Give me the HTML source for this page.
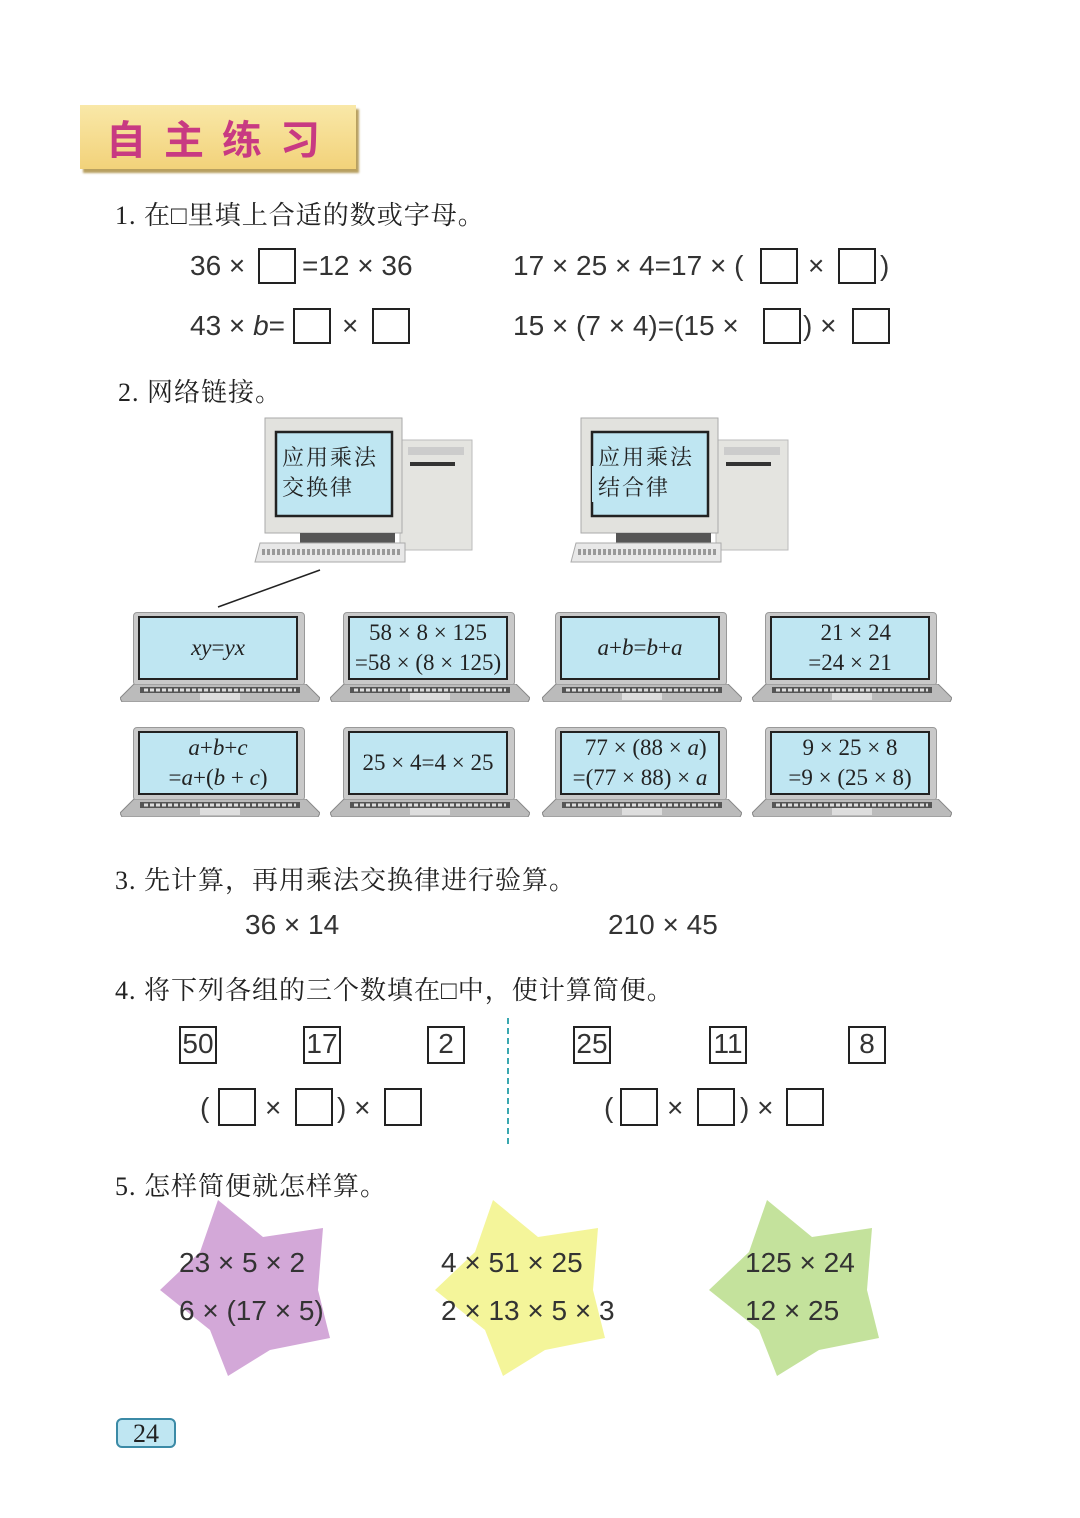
<!DOCTYPE html>
<html><head><meta charset="utf-8"><style>
body{margin:0;background:#fff;}
#p{position:relative;width:1080px;height:1518px;overflow:hidden;background:#fff;font-family:"Liberation Sans","Noto Sans CJK SC",sans-serif;color:#2a2a2a;}
.a{position:absolute;white-space:nowrap;}
.q{position:absolute;white-space:nowrap;font-family:"Liberation Serif","Noto Serif CJK SC",serif;font-size:26px;color:#222;letter-spacing:1px;}
.m{position:absolute;white-space:nowrap;font-size:28px;color:#333;line-height:36px;}
.b{position:absolute;border:2px solid #222;box-sizing:border-box;background:#fff;}
.nb{position:absolute;border:2px solid #222;box-sizing:border-box;font-size:28px;line-height:32px;text-align:center;color:#333;}
.lap{position:absolute;width:200px;height:92px;}
.lap .fr{position:absolute;left:13px;top:0;width:170px;height:72px;background:#c9c9c9;border-radius:4px;border:1px solid #999;}
.lap .sc{position:absolute;left:18px;top:4px;width:160px;height:64px;background:#bfe6f2;border:2px solid #222;box-sizing:border-box;font-family:"Liberation Serif",serif;font-size:23px;color:#222;text-align:center;line-height:30px;display:flex;flex-direction:column;justify-content:center;}
.lap .bs{position:absolute;left:0;top:72px;width:200px;height:18px;}
i{font-style:italic;}
</style></head><body><div id="p">

<!-- title -->
<div class="a" style="left:80px;top:105px;width:276px;height:64px;background:linear-gradient(#f9e8a8,#f2d27a);box-shadow:3px 4px 2px #b8a060;"></div>
<div class="a" style="left:106px;top:110px;font-family:'Noto Sans CJK SC',sans-serif;font-weight:bold;font-size:40px;color:#c83a82;letter-spacing:18px;line-height:54px;">自主练习</div>

<!-- Q1 -->
<div class="q" style="left:115px;top:195px;">1. 在□里填上合适的数或字母。</div>
<div class="m" style="left:190px;top:248px;">36 ×</div>
<div class="b" style="left:258px;top:248px;width:38px;height:36px;"></div>
<div class="m" style="left:302px;top:248px;">=12 × 36</div>
<div class="m" style="left:513px;top:248px;">17 × 25 × 4=17 × (</div>
<div class="b" style="left:760px;top:248px;width:38px;height:36px;"></div>
<div class="m" style="left:808px;top:248px;">×</div>
<div class="b" style="left:838px;top:248px;width:38px;height:36px;"></div>
<div class="m" style="left:880px;top:248px;">)</div>

<div class="m" style="left:190px;top:308px;">43 × <i>b</i>=</div>
<div class="b" style="left:293px;top:308px;width:38px;height:36px;"></div>
<div class="m" style="left:342px;top:308px;">×</div>
<div class="b" style="left:372px;top:308px;width:38px;height:36px;"></div>
<div class="m" style="left:513px;top:308px;">15 × (7 × 4)=(15 ×</div>
<div class="b" style="left:763px;top:308px;width:38px;height:36px;"></div>
<div class="m" style="left:803px;top:308px;">) ×</div>
<div class="b" style="left:852px;top:308px;width:38px;height:36px;"></div>

<!-- Q2 -->
<div class="q" style="left:118px;top:372px;">2. 网络链接。</div>

<!-- computers -->
<svg class="a" style="left:0;top:0" width="1080" height="620">
 <g id="c1">
  <rect x="400" y="440" width="72" height="110" fill="#e4e4e0" stroke="#bbb"/>
  <rect x="408" y="447" width="56" height="8" fill="#ccc"/>
  <rect x="410" y="462" width="45" height="4" fill="#333"/>
  <rect x="265" y="418" width="137" height="115" fill="#e2e2de" stroke="#aaa"/>
  <rect x="276" y="432" width="116" height="84" fill="#bfe6f2" stroke="#222" stroke-width="2.5"/>
  <rect x="300" y="533" width="95" height="10" fill="#555"/>
  <polygon points="260,543 405,543 405,562 255,562" fill="#e8e8e8" stroke="#aaa"/>
  <line x1="262" y1="552" x2="400" y2="552" stroke="#999" stroke-width="6" stroke-dasharray="3,2"/>
  <text x="282" y="465" font-family="Noto Serif CJK SC,serif" font-size="22" fill="#222" letter-spacing="2">应用乘法</text>
 </g>
 <text x="282" y="495" font-family="Noto Serif CJK SC,serif" font-size="22" fill="#222" letter-spacing="2">交换律</text>
 <use href="#c1" transform="translate(316,0)"/>
 <rect x="592" y="466" width="112" height="36" fill="#bfe6f2"/>
 <text x="598" y="495" font-family="Noto Serif CJK SC,serif" font-size="22" fill="#222" letter-spacing="2">结合律</text>
 <line x1="320" y1="570" x2="218" y2="607" stroke="#222" stroke-width="1.5"/>
</svg>

<!-- laptops -->
<svg width="0" height="0" style="position:absolute"><defs>
<g id="base"><polygon points="14,0 186,0 200,14 198,18 2,18 0,14" fill="#bbb" stroke="#888"/><rect x="20" y="3" width="160" height="6" fill="#555"/><line x1="24" y1="6" x2="176" y2="6" stroke="#ddd" stroke-width="3" stroke-dasharray="4,2"/><rect x="80" y="9" width="40" height="7" fill="#ddd"/></g>
</defs></svg>

<div class="lap" style="left:120px;top:612px;"><div class="fr"></div><div class="sc"><div><i>xy</i>=<i>yx</i></div></div><svg class="bs"><use href="#base"/></svg></div>
<div class="lap" style="left:330px;top:612px;"><div class="fr"></div><div class="sc"><div>58 × 8 × 125</div><div>=58 × (8 × 125)</div></div><svg class="bs"><use href="#base"/></svg></div>
<div class="lap" style="left:542px;top:612px;"><div class="fr"></div><div class="sc"><div><i>a</i>+<i>b</i>=<i>b</i>+<i>a</i></div></div><svg class="bs"><use href="#base"/></svg></div>
<div class="lap" style="left:752px;top:612px;"><div class="fr"></div><div class="sc"><div>&nbsp;&nbsp;21 × 24</div><div>=24 × 21</div></div><svg class="bs"><use href="#base"/></svg></div>

<div class="lap" style="left:120px;top:727px;"><div class="fr"></div><div class="sc"><div><i>a</i>+<i>b</i>+<i>c</i></div><div>=<i>a</i>+(<i>b</i> + <i>c</i>)</div></div><svg class="bs"><use href="#base"/></svg></div>
<div class="lap" style="left:330px;top:727px;"><div class="fr"></div><div class="sc"><div>25 × 4=4 × 25</div></div><svg class="bs"><use href="#base"/></svg></div>
<div class="lap" style="left:542px;top:727px;"><div class="fr"></div><div class="sc"><div>&nbsp;&nbsp;77 × (88 × <i>a</i>)</div><div>=(77 × 88) × <i>a</i></div></div><svg class="bs"><use href="#base"/></svg></div>
<div class="lap" style="left:752px;top:727px;"><div class="fr"></div><div class="sc"><div>9 × 25 × 8</div><div>=9 × (25 × 8)</div></div><svg class="bs"><use href="#base"/></svg></div>

<!-- Q3 -->
<div class="q" style="left:115px;top:860px;">3. 先计算，再用乘法交换律进行验算。</div>
<div class="m" style="left:245px;top:907px;">36 × 14</div>
<div class="m" style="left:608px;top:907px;">210 × 45</div>

<!-- Q4 -->
<div class="q" style="left:115px;top:970px;">4. 将下列各组的三个数填在□中，使计算简便。</div>
<div class="nb" style="left:179px;top:1026px;width:38px;height:38px;">50</div>
<div class="nb" style="left:303px;top:1026px;width:38px;height:38px;">17</div>
<div class="nb" style="left:427px;top:1026px;width:38px;height:38px;">2</div>
<div class="nb" style="left:573px;top:1026px;width:38px;height:38px;">25</div>
<div class="nb" style="left:709px;top:1026px;width:38px;height:38px;">11</div>
<div class="nb" style="left:848px;top:1026px;width:38px;height:38px;">8</div>
<div class="a" style="left:507px;top:1018px;height:126px;border-left:2px dashed #3aa8b0;"></div>

<div class="m" style="left:200px;top:1090px;">(</div>
<div class="b" style="left:218px;top:1088px;width:38px;height:38px;"></div>
<div class="m" style="left:265px;top:1090px;">×</div>
<div class="b" style="left:295px;top:1088px;width:38px;height:38px;"></div>
<div class="m" style="left:337px;top:1090px;">) ×</div>
<div class="b" style="left:384px;top:1088px;width:38px;height:38px;"></div>

<div class="m" style="left:604px;top:1090px;">(</div>
<div class="b" style="left:620px;top:1088px;width:38px;height:38px;"></div>
<div class="m" style="left:667px;top:1090px;">×</div>
<div class="b" style="left:697px;top:1088px;width:38px;height:38px;"></div>
<div class="m" style="left:740px;top:1090px;">) ×</div>
<div class="b" style="left:786px;top:1088px;width:38px;height:38px;"></div>

<!-- Q5 -->
<div class="q" style="left:115px;top:1166px;">5. 怎样简便就怎样算。</div>
<svg class="a" style="left:0;top:0" width="1080" height="1518">
 <polygon points="218,1200 263,1237 323,1228 318,1290 330,1338 270,1350 228,1376 210,1330 160,1290 200,1252" fill="#d3a8d8"/>
 <polygon points="493,1200 538,1237 598,1228 593,1290 605,1338 545,1350 503,1376 485,1330 435,1290 475,1252" fill="#f4f59a"/>
 <polygon points="767,1200 812,1237 872,1228 867,1290 879,1338 819,1350 777,1376 759,1330 709,1290 749,1252" fill="#c4e29c"/>
</svg>
<div class="m" style="left:179px;top:1245px;">23 × 5 × 2</div>
<div class="m" style="left:179px;top:1293px;">6 × (17 × 5)</div>
<div class="m" style="left:441px;top:1245px;">4 × 51 × 25</div>
<div class="m" style="left:441px;top:1293px;">2 × 13 × 5 × 3</div>
<div class="m" style="left:745px;top:1245px;">125 × 24</div>
<div class="m" style="left:745px;top:1293px;">12 × 25</div>

<!-- page number -->
<div class="a" style="left:116px;top:1418px;width:60px;height:30px;border:2px solid #3b8aa6;border-radius:6px;background:#bfe6f2;box-sizing:border-box;text-align:center;font-family:'Liberation Serif',serif;font-size:26px;line-height:28px;color:#222;">24</div>

</div></body></html>
